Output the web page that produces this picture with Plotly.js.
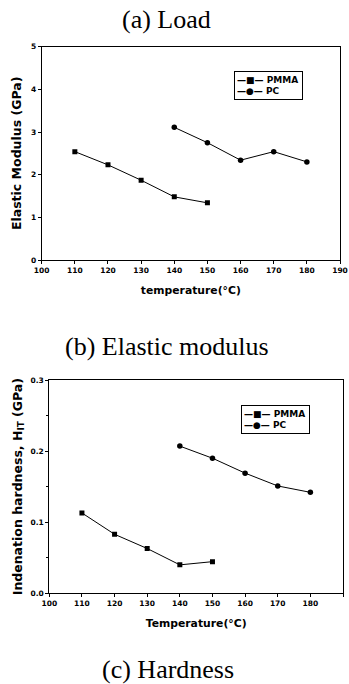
<!DOCTYPE html>
<html>
<head>
<meta charset="utf-8">
<script src="https://cdn.plot.ly/plotly-3.0.1.min.js"></script>
<style>html,body{margin:0;padding:0;background:#fff;}#chart{width:349px;height:684px;}</style>
</head>
<body>
<div id="chart"></div>
<script>
// ---- data ----
const modTempPMMA = [110, 120, 130, 140, 150];
const modPMMA = [2.54, 2.23, 1.87, 1.48, 1.34];
const modTempPC = [140, 150, 160, 170, 180];
const modPC = [3.11, 2.75, 2.34, 2.54, 2.30];

const hardTempPMMA = [110, 120, 130, 140, 150];
const hardPMMA = [0.113, 0.083, 0.063, 0.040, 0.0445];
const hardTempPC = [140, 150, 160, 170, 180];
const hardPC = [0.207, 0.190, 0.169, 0.151, 0.142];

const xTicks = [100, 110, 120, 130, 140, 150, 160, 170, 180, 190];
const modTicks = [0, 1, 2, 3, 4, 5];
const hardTicks = [0.0, 0.1, 0.2, 0.3];
const seriesNames = ['PMMA', 'PC'];

const W = 349, H = 684;
const fx = p => p / W;
const fy = p => 1 - p / H;

const sans = 'DejaVu Sans, Arial';
const tickFont = {family: sans, size: 7.5, color: '#000', weight: 'bold'};
const xTitleFont = {family: sans, size: 10.8, color: '#000', weight: 'bold'};
const yTitleFont = {family: sans, size: 12.5, color: '#000', weight: 'bold'};
const lineStyle = {color: '#000', width: 1};

const traces = [
  {x: modTempPMMA, y: modPMMA, name: seriesNames[0], mode: 'lines+markers', xaxis: 'x', yaxis: 'y',
   line: lineStyle, marker: {symbol: 'square', size: 5, color: '#000'}},
  {x: modTempPC, y: modPC, name: seriesNames[1], mode: 'lines+markers', xaxis: 'x', yaxis: 'y',
   line: lineStyle, marker: {symbol: 'circle', size: 5.5, color: '#000'}},
  {x: hardTempPMMA, y: hardPMMA, name: seriesNames[0], mode: 'lines+markers', xaxis: 'x2', yaxis: 'y2',
   line: lineStyle, marker: {symbol: 'square', size: 5, color: '#000'}},
  {x: hardTempPC, y: hardPC, name: seriesNames[1], mode: 'lines+markers', xaxis: 'x2', yaxis: 'y2',
   line: lineStyle, marker: {symbol: 'circle', size: 5.5, color: '#000'}}
];

function axisBase() {
  return {
    showgrid: false, zeroline: false, showline: true, linecolor: '#000', linewidth: 1,
    mirror: true, ticks: 'outside', ticklen: 3, tickwidth: 1, tickcolor: '#000',
    tickfont: tickFont, fixedrange: true,
    minor: {ticks: 'outside', ticklen: 2, tickcolor: '#000', nticks: 2}
  };
}

const xa1 = Object.assign(axisBase(), {
  domain: [fx(41.7), fx(340)], anchor: 'y', range: [100, 190],
  tickvals: xTicks, ticktext: xTicks.map(String),
  title: {text: 'temperature(°C)', font: xTitleFont, standoff: 12}
});
const ya1 = Object.assign(axisBase(), {
  domain: [fy(260), fy(46.7)], anchor: 'x', range: [0, 5],
  tickvals: modTicks, ticktext: modTicks.map(String),
  title: {text: 'Elastic Modulus (GPa)', font: yTitleFont, standoff: 6}
});
const xa2 = Object.assign(axisBase(), {
  domain: [fx(49.3), fx(343)], anchor: 'y2', range: [100, 190],
  tickvals: xTicks, ticktext: xTicks.map(String),
  title: {text: 'Temperature(°C)', font: xTitleFont, standoff: 12}
});
const ya2 = Object.assign(axisBase(), {
  domain: [fy(593.3), fy(380)], anchor: 'x2', range: [0, 0.3],
  tickvals: hardTicks, ticktext: hardTicks.map(v => v.toFixed(1)),
  title: {text: 'Indenation hardness, H<sub>IT</sub> (GPa)', font: yTitleFont, standoff: 5}
});

const legendText = '—■— ' + seriesNames[0] + '<br>—●— ' + seriesNames[1];
const legendBox = {
  text: legendText, xref: 'paper', yref: 'paper', showarrow: false,
  xanchor: 'left', yanchor: 'top', align: 'left', width: 63, height: 23,
  font: {family: sans, size: 9, color: '#000', weight: 'bold'},
  bgcolor: '#fff', bordercolor: '#000', borderwidth: 1, borderpad: 2
};

const serif = {family: 'Liberation Serif, Times New Roman', size: 26, color: '#000'};

const layout = {
  width: W, height: H,
  margin: {l: 0, r: 0, t: 0, b: 0},
  paper_bgcolor: '#fff', plot_bgcolor: '#fff',
  showlegend: false,
  xaxis: xa1, yaxis: ya1, xaxis2: xa2, yaxis2: ya2,
  annotations: [
    {text: '(a) Load', xref: 'paper', yref: 'paper', x: fx(166), y: fy(19), showarrow: false, font: serif, xanchor: 'center', yanchor: 'middle'},
    {text: '(b) Elastic modulus', xref: 'paper', yref: 'paper', x: fx(167), y: fy(346), showarrow: false, font: serif, xanchor: 'center', yanchor: 'middle'},
    {text: '(c) Hardness', xref: 'paper', yref: 'paper', x: fx(168), y: fy(669), showarrow: false, font: serif, xanchor: 'center', yanchor: 'middle'},
    Object.assign({x: fx(234), y: fy(71.5)}, legendBox),
    Object.assign({x: fx(241), y: fy(405)}, legendBox)
  ]
};

Plotly.newPlot('chart', traces, layout, {staticPlot: true, displayModeBar: false});
</script>
</body>
</html>
